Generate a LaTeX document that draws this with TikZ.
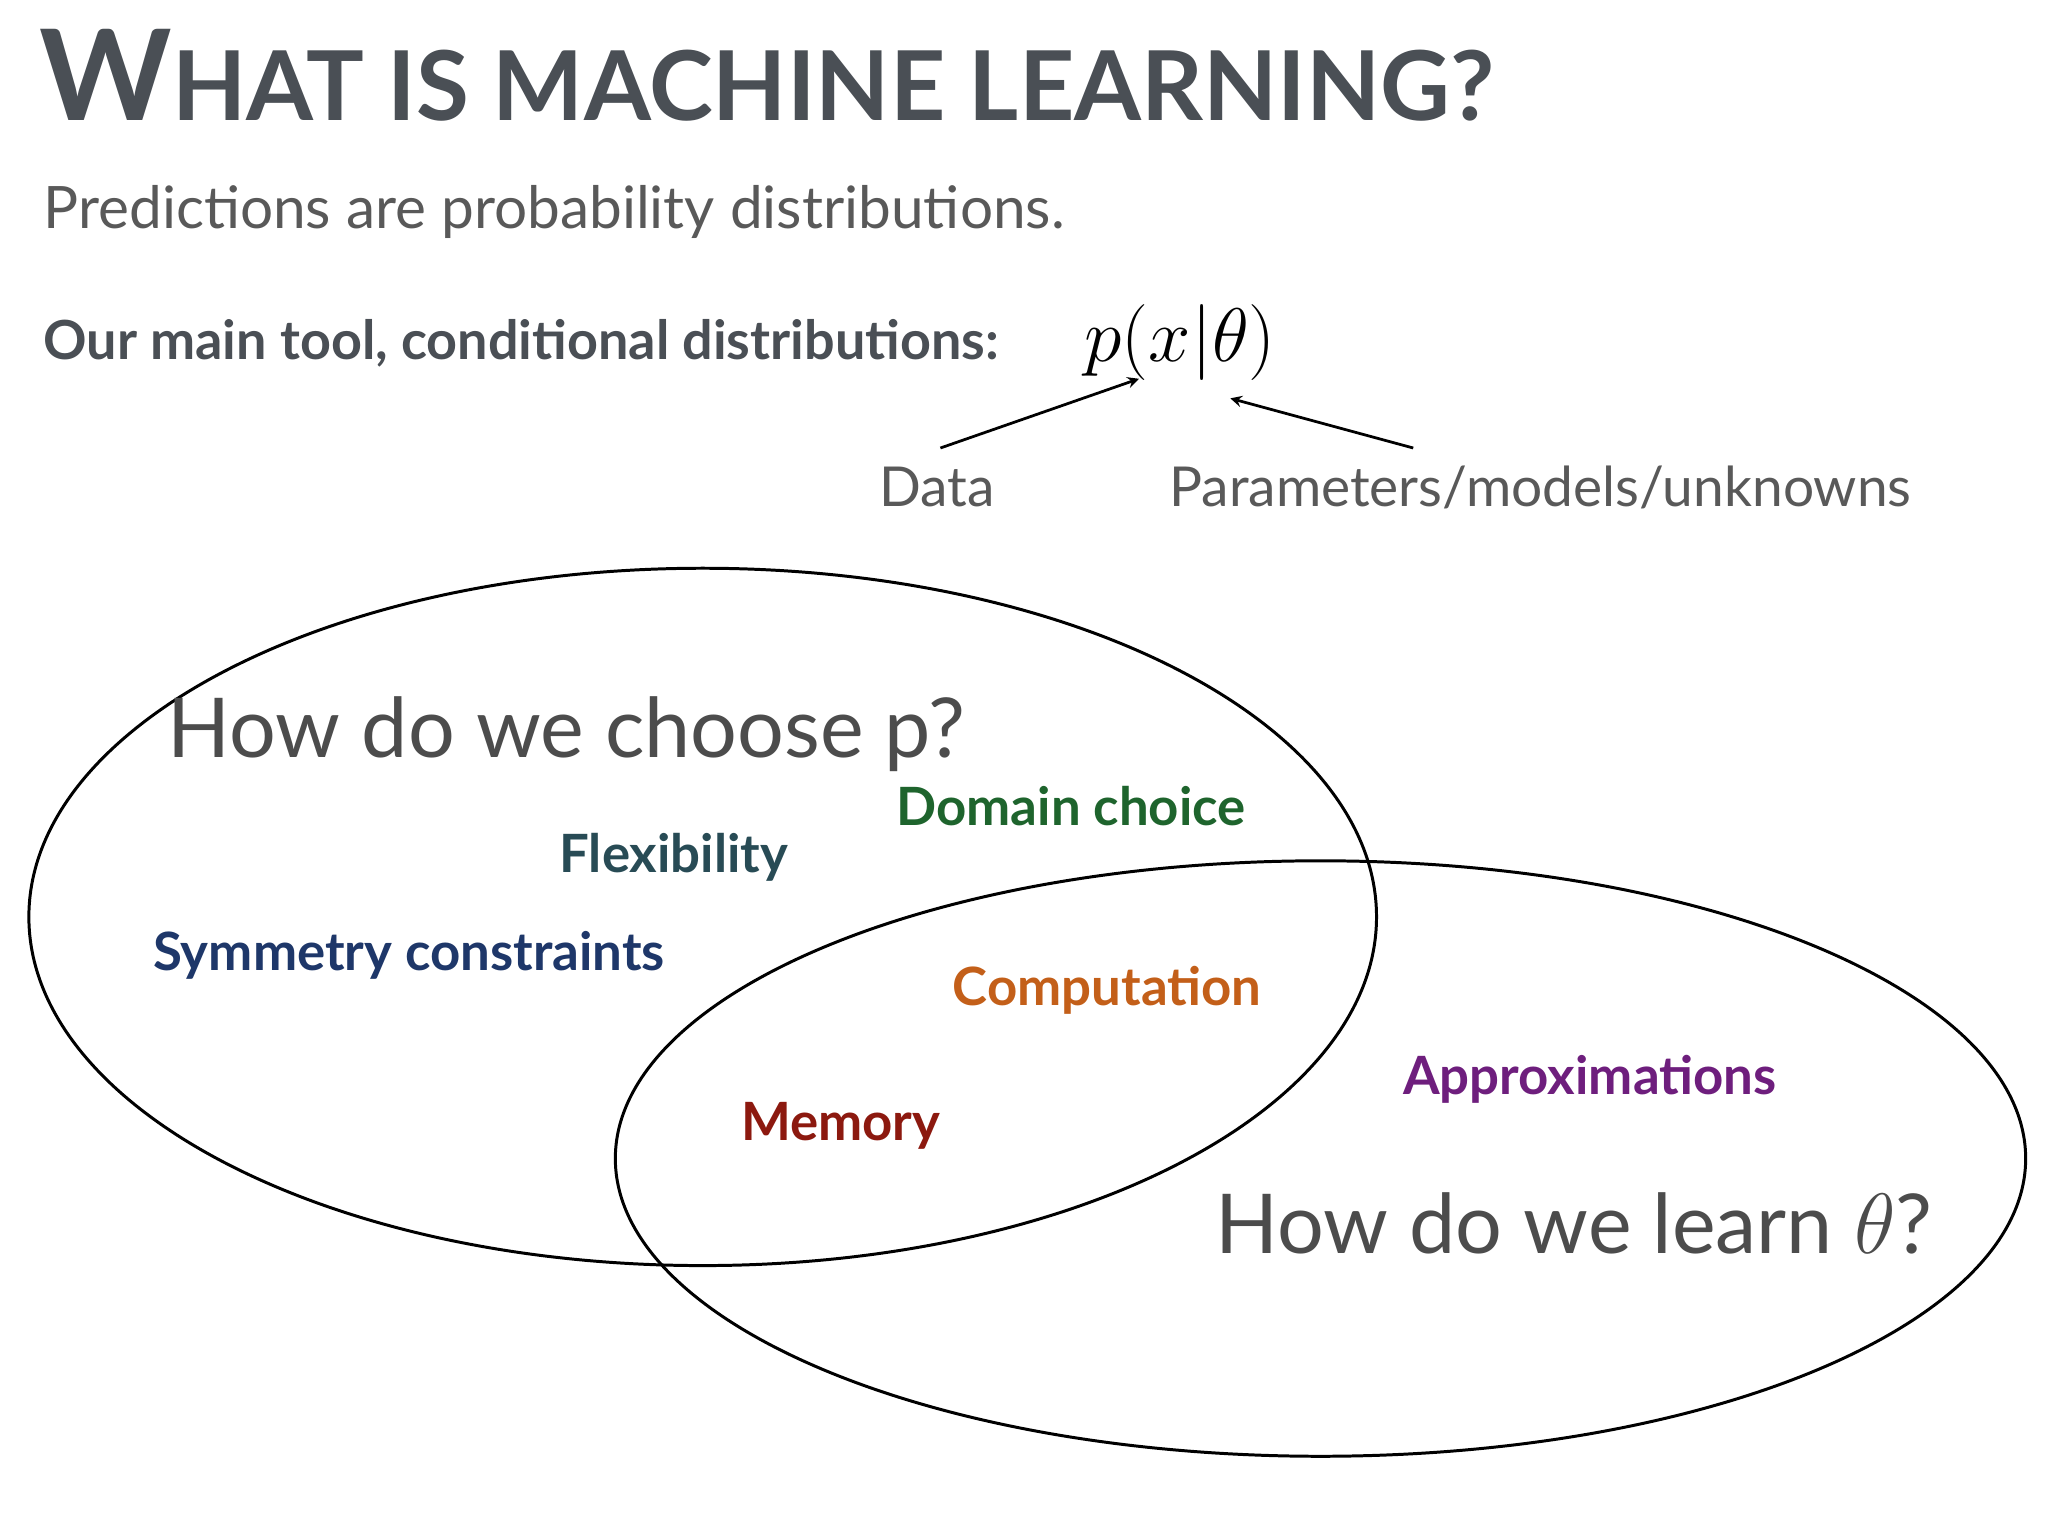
\documentclass[tikz,border=0pt]{standalone}
\usepackage{graphicx}
\usepackage{fontspec}
\setmainfont{Lato}
\begin{document}
\begin{tikzpicture}[x=0.02cm,y=-0.02cm,
  lab/.style={anchor=base west,inner sep=0pt},
  big/.style={lab,font=\fontsize{36}{36}\selectfont,text=black!70},
  kw/.style={lab,font=\fontsize{23}{23}\selectfont\bfseries},
  grey/.style={lab,font=\fontsize{24}{24}\selectfont,text=black!65},
  arr/.style={-stealth,line width=1.2pt}]
\definecolor{tgray}{HTML}{4A4F55}
\useasboundingbox (0,0) rectangle (1568,1176);
\node[lab,text=tgray,font=\bfseries] (title) at (30,92) {{\fontsize{55}{55}\selectfont W}{\fontsize{42}{42}\selectfont HAT IS MACHINE LEARNING?}};
\node[lab,font=\fontsize{25.5}{25.5}\selectfont,text=black!65] (sub) at (33,175) {Predictions are probability distributions.};
\node[lab,text=tgray,font=\fontsize{23.5}{23.5}\selectfont\bfseries] (tool) at (33,275) {Our main tool, conditional distributions:};
\node[lab,font=\fontsize{24.88}{25}\selectfont] (p) at (830,277) {\scalebox{1.33}{$p(x|\theta)$}};
\node[grey] (data) at (673,388) {Data};
\node[grey] (par) at (895,388) {Parameters/models/unknowns};
\coordinate (a1) at (720,343); \coordinate (b1) at (872,290);
\coordinate (a2) at (1082,343); \coordinate (b2) at (942,305);
\draw[arr] (a1) -- (b1);
\draw[arr] (a2) -- (b2);
\draw[line width=1.3pt] (538,702) ellipse [x radius=10.32cm, y radius=5.34cm];
\draw[line width=1.3pt] (1011,887) ellipse [x radius=10.8cm, y radius=4.56cm];
\node[big] (q1) at (128,580) {How do we choose p?};
\node[big] (q2) at (930,960) {How do we learn \scalebox{1.5}{$\theta$}?};
\node[kw,text={rgb,255:red,30;green,100;blue,45}] (dom) at (686,632) {Domain choice};
\node[kw,text={rgb,255:red,40;green,75;blue,85}] (flex) at (428,668) {Flexibility};
\node[kw,text={rgb,255:red,30;green,55;blue,105}] (sym) at (117,743) {Symmetry constraints};
\node[kw,text={rgb,255:red,195;green,95;blue,25}] (comp) at (729,770) {Computation};
\node[kw,text={rgb,255:red,140;green,25;blue,15}] (mem) at (567,873) {Memory};
\node[kw,text={rgb,255:red,110;green,30;blue,125}] (appr) at (1074,838) {Approximations};
\end{tikzpicture}
\end{document}
